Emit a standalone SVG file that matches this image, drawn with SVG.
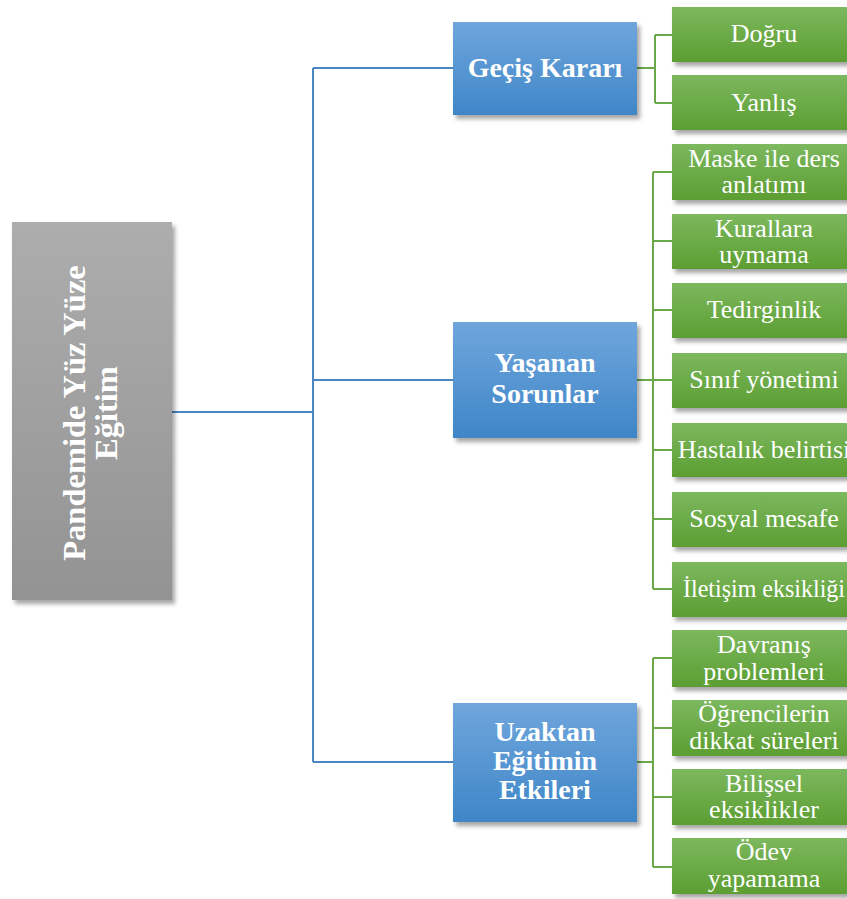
<svg xmlns="http://www.w3.org/2000/svg" width="847" height="899" viewBox="0 0 847 899">
<defs>
<linearGradient id="gGray" x1="0" y1="0" x2="0" y2="1"><stop offset="0" stop-color="#adadad"/><stop offset="1" stop-color="#939393"/></linearGradient>
<linearGradient id="gBlue" x1="0" y1="0" x2="0" y2="1"><stop offset="0" stop-color="#6fa6dc"/><stop offset="1" stop-color="#3f86c8"/></linearGradient>
<linearGradient id="gGreen" x1="0" y1="0" x2="0" y2="1"><stop offset="0" stop-color="#7cb85e"/><stop offset="1" stop-color="#5c9e32"/></linearGradient>
<filter id="sh" x="-10%" y="-10%" width="130%" height="140%"><feDropShadow dx="3" dy="4" stdDeviation="2" flood-color="#000" flood-opacity="0.35"/></filter>
</defs>
<style>
.root{fill:url(#gGray);filter:url(#sh)}
.blue{fill:url(#gBlue);filter:url(#sh)}
.green{fill:url(#gGreen);filter:url(#sh)}
text{font-family:'Liberation Serif','DejaVu Serif',serif;fill:#fff;text-anchor:middle}
.bt{font-weight:bold;font-size:28px}
.rt{font-weight:bold;font-size:32.5px}
.gt{font-size:26px}
.cb{stroke:#4a86c4;stroke-width:2;fill:none}
.cg{stroke:#6aa84a;stroke-width:2;fill:none}
</style>
<rect width="847" height="899" fill="#fff"/>
<g id="connectors">
<path class="cb" d="M172 412H313M313 68V762M313 68H453M313 380H453M313 762H453"/>
<path class="cg" d="M637 68H655M655 35V103M655 35H672M655 103H672"/>
<path class="cg" d="M637 380H653M653 172V589M653 172H672M653 241H672M653 310H672M653 380H672M653 450H672M653 519H672M653 589H672"/>
<path class="cg" d="M637 762H653M653 658V867M653 658H672M653 728H672M653 797H672M653 867H672"/>
</g>
<g id="root">
<rect class="root" x="12" y="222" width="160" height="378"/>
<g transform="translate(92,413) rotate(-90)"><text class="rt" x="0" y="-7">Pandemide Yüz Yüze</text><text class="rt" x="0" y="25">Eğitim</text></g>
</g>
<g id="gecis"><rect class="blue" x="453" y="22" width="184" height="93"/><text class="bt" x="545" y="77">Geçiş Kararı</text></g>
<g id="yasanan"><rect class="blue" x="453" y="322" width="184" height="116"/><text class="bt" x="545" y="372">Yaşanan</text><text class="bt" x="545" y="403">Sorunlar</text></g>
<g id="uzaktan"><rect class="blue" x="453" y="703" width="184" height="119"/><text class="bt" x="545" y="741">Uzaktan</text><text class="bt" x="545" y="770">Eğitimin</text><text class="bt" x="545" y="799">Etkileri</text></g>
<g id="dogru"><rect class="green" x="672" y="7" width="184" height="55"/><text class="gt" x="764" y="42">Doğru</text></g>
<g id="yanlis"><rect class="green" x="672" y="75" width="184" height="55"/><text class="gt" x="764" y="111">Yanlış</text></g>
<g id="maske"><rect class="green" x="672" y="144" width="184" height="56"/><text class="gt" x="764" y="167">Maske ile ders</text><text class="gt" x="764" y="193">anlatımı</text></g>
<g id="kurallara"><rect class="green" x="672" y="214" width="184" height="55"/><text class="gt" x="764" y="237">Kurallara</text><text class="gt" x="764" y="263">uymama</text></g>
<g id="tedirginlik"><rect class="green" x="672" y="283" width="184" height="55"/><text class="gt" x="764" y="318">Tedirginlik</text></g>
<g id="sinif"><rect class="green" x="672" y="353" width="184" height="55"/><text class="gt" x="764" y="388">Sınıf yönetimi</text></g>
<g id="hastalik"><rect class="green" x="672" y="423" width="184" height="54"/><text class="gt" x="764" y="458">Hastalık belirtisi</text></g>
<g id="sosyal"><rect class="green" x="672" y="492" width="184" height="55"/><text class="gt" x="764" y="527">Sosyal mesafe</text></g>
<g id="iletisim"><rect class="green" x="672" y="562" width="184" height="55"/><text class="gt" x="764" y="597" textLength="162" lengthAdjust="spacingAndGlyphs">İletişim eksikliği</text></g>
<g id="davranis"><rect class="green" x="672" y="630" width="184" height="57"/><text class="gt" x="764" y="653">Davranış</text><text class="gt" x="764" y="680">problemleri</text></g>
<g id="ogrenciler"><rect class="green" x="672" y="700" width="184" height="56"/><text class="gt" x="764" y="722">Öğrencilerin</text><text class="gt" x="764" y="749">dikkat süreleri</text></g>
<g id="bilissel"><rect class="green" x="672" y="769" width="184" height="56"/><text class="gt" x="764" y="792">Bilişsel</text><text class="gt" x="764" y="818">eksiklikler</text></g>
<g id="odev"><rect class="green" x="672" y="838" width="184" height="56"/><text class="gt" x="764" y="860">Ödev</text><text class="gt" x="764" y="887">yapamama</text></g>
</svg>
